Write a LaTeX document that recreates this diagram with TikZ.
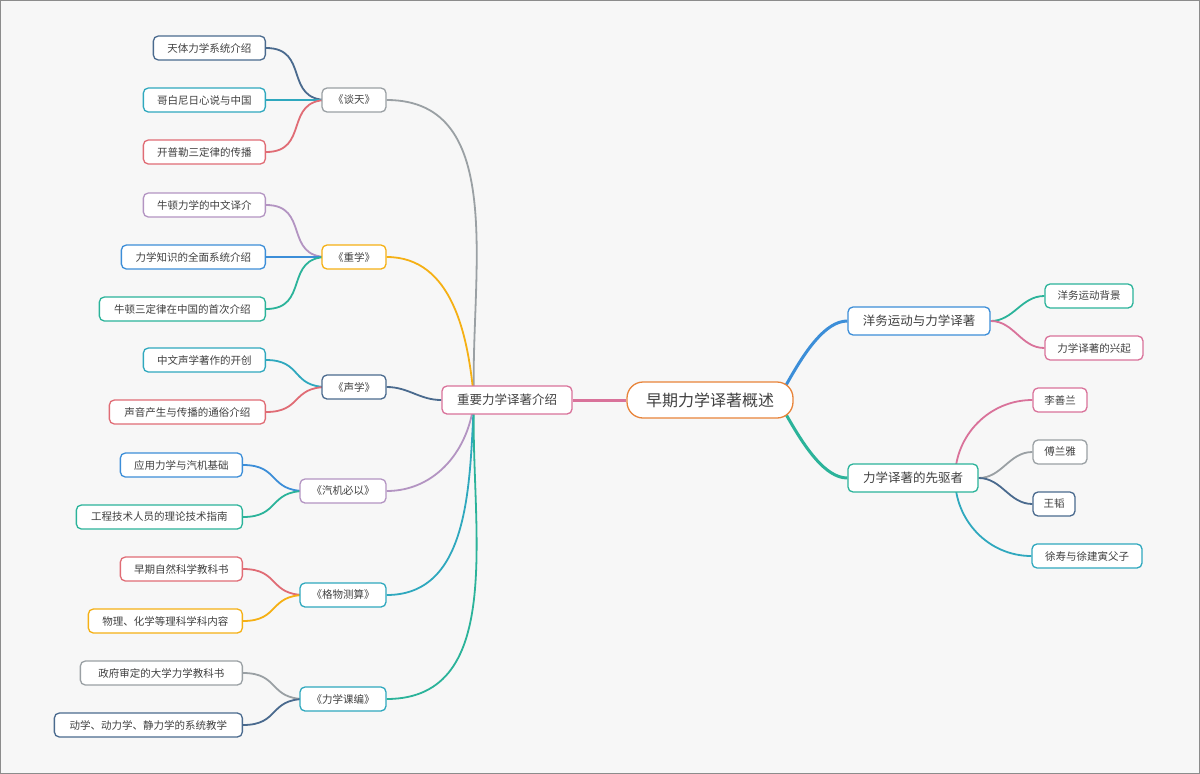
\documentclass[tikz,border=0pt]{standalone}
\usepackage{fontspec}
\setmainfont{Noto Sans CJK SC}
\usetikzlibrary{positioning,backgrounds}
\definecolor{cdb}{HTML}{4A6A8E}
\definecolor{cteal}{HTML}{2FA8BE}
\definecolor{cred}{HTML}{E06C75}
\definecolor{cpur}{HTML}{B394C2}
\definecolor{cblue}{HTML}{3C8ED8}
\definecolor{cgrn}{HTML}{2BB39A}
\definecolor{cyel}{HTML}{F5B014}
\definecolor{cgray}{HTML}{9AA0A4}
\definecolor{cpink}{HTML}{D9729A}
\definecolor{corg}{HTML}{E8843A}
\tikzset{
  box/.style={draw=#1, line width=1.3pt, rounded corners=5pt, fill=white, text=black!75,
    inner sep=0pt, minimum height=24pt, font=\fontsize{10.5}{12}\selectfont},
  mid/.style={box=#1, minimum height=28pt, font=\fontsize{12.5}{15}\selectfont},
  link/.style={draw=#1, line width=1.8pt},
}
\begin{document}
\begin{tikzpicture}[x=1pt,y=-1pt]
    \begin{scope}[on background layer]
    \fill[white!97!black] (0,0) rectangle (1200,774);
    \draw[black!45] (0.5,0.5) rectangle (1199.5,773.5);
    \end{scope}
    % root and main topics
    \node[box=corg, minimum width=166pt, minimum height=36pt, rounded corners=16pt,
      font=\fontsize{16}{18}\selectfont] (root) at (710,400) {早期力学译著概述};
    \node[mid=cblue, minimum width=142pt] (yw) at (919,321) {洋务运动与力学译著};
    \node[mid=cgrn, minimum width=130pt] (xq) at (913,478) {力学译著的先驱者};
    \node[mid=cpink, minimum width=130pt] (hub) at (507,400) {重要力学译著介绍};
    \coordinate (hubc) at (474,400);
    \coordinate (rootc) at (767,400);
    \coordinate (xqc) at (955,478);
    % right leaves
    \node[box=cgrn, minimum width=88pt] (bj) at (1089,296) {洋务运动背景};
    \node[box=cpink, minimum width=98pt] (xqi) at (1094,348) {力学译著的兴起};
    \node[box=cpink, minimum width=54pt] (lsl) at (1060,400) {李善兰};
    \node[box=cgray, minimum width=54pt] (fly) at (1060,452) {傅兰雅};
    \node[box=cdb, minimum width=42pt] (wt) at (1054,504) {王韬};
    \node[box=cteal, minimum width=110pt] (xs) at (1087,556) {徐寿与徐建寅父子};
    % left books
    \foreach \n/\t/\c/\x/\w/\y in {tan/《谈天》/cgray/354/64/100, zhong/《重学》/cyel/354/64/257,
        sheng/《声学》/cdb/354/64/387, qj/《汽机必以》/cpur/343/86/491,
        gw/《格物测算》/cteal/343/86/595, lx/《力学课编》/cteal/343/86/699}
      \node[box=\c, minimum width=\w pt] (\n) at (\x,\y) {\t};
    % left leaves
    \foreach \n/\p/\t/\c/\x/\y/\w in {
        a1/tan/天体力学系统介绍/cdb/266/48/112, a2/tan/哥白尼日心说与中国/cteal/266/100/122,
        a3/tan/开普勒三定律的传播/cred/266/152/122,
        b1/zhong/牛顿力学的中文译介/cpur/266/205/122, b2/zhong/力学知识的全面系统介绍/cblue/266/257/144,
        b3/zhong/牛顿三定律在中国的首次介绍/cgrn/266/309/166,
        c1/sheng/中文声学著作的开创/cteal/266/360/122, c2/sheng/声音产生与传播的通俗介绍/cred/266/412/156,
        d1/qj/应用力学与汽机基础/cblue/243/465/122, d2/qj/工程技术人员的理论技术指南/cgrn/243/517/166,
        e1/gw/早期自然科学教科书/cred/243/569/122, e2/gw/物理、化学等理科学科内容/cyel/243/621/154,
        f1/lx/政府审定的大学力学教科书/cgray/243/673/162, f2/lx/动学、动力学、静力学的系统教学/cdb/243/725/188} {
      \node[box=\c, minimum width=\w pt, anchor=east] (\n) at (\x,\y) {\t};
      \begin{scope}[on background layer]
        \draw[link=\c] (\p.west) ++(6,0) to[out=180,in=0,looseness=1.4] (\n.east);
      \end{scope}
    }
    % connectors
    \begin{scope}[on background layer]
    \draw[link=cpink, line width=3pt] (root.west) -- (hub.east);
    \draw[link=cblue, line width=3pt] (rootc) to[out=-90,in=180] (yw.west);
    \draw[link=cgrn, line width=3pt] (rootc) to[out=90,in=180] (xq.west);
    \draw[link=cgrn] (yw.east) to[out=0,in=180] (bj.west);
    \draw[link=cpink] (yw.east) to[out=0,in=180] (xqi.west);
    \draw[link=cpink] (xqc) to[out=90,in=180] (lsl.west);
    \draw[link=cgray] (xq.east) to[out=0,in=180] (fly.west);
    \draw[link=cdb] (xq.east) to[out=0,in=180] (wt.west);
    \draw[link=cteal] (xqc) to[out=-90,in=180] (xs.west);
    \draw[link=cgray] (tan.east) to[out=0,in=92] (hubc);
    \draw[link=cyel] (zhong.east) to[out=0,in=95] (hubc);
    \draw[link=cdb] (sheng.east) to[out=0,in=180] (hub.west);
    \draw[link=cpur] (qj.east) to[out=0,in=-95] (hubc);
    \draw[link=cteal] (gw.east) to[out=0,in=-93] (hubc);
    \draw[link=cgrn] (lx.east) to[out=0,in=-92] (hubc);
    \end{scope}
    \useasboundingbox (0,0) rectangle (1200,774);
\end{tikzpicture}
\end{document}
